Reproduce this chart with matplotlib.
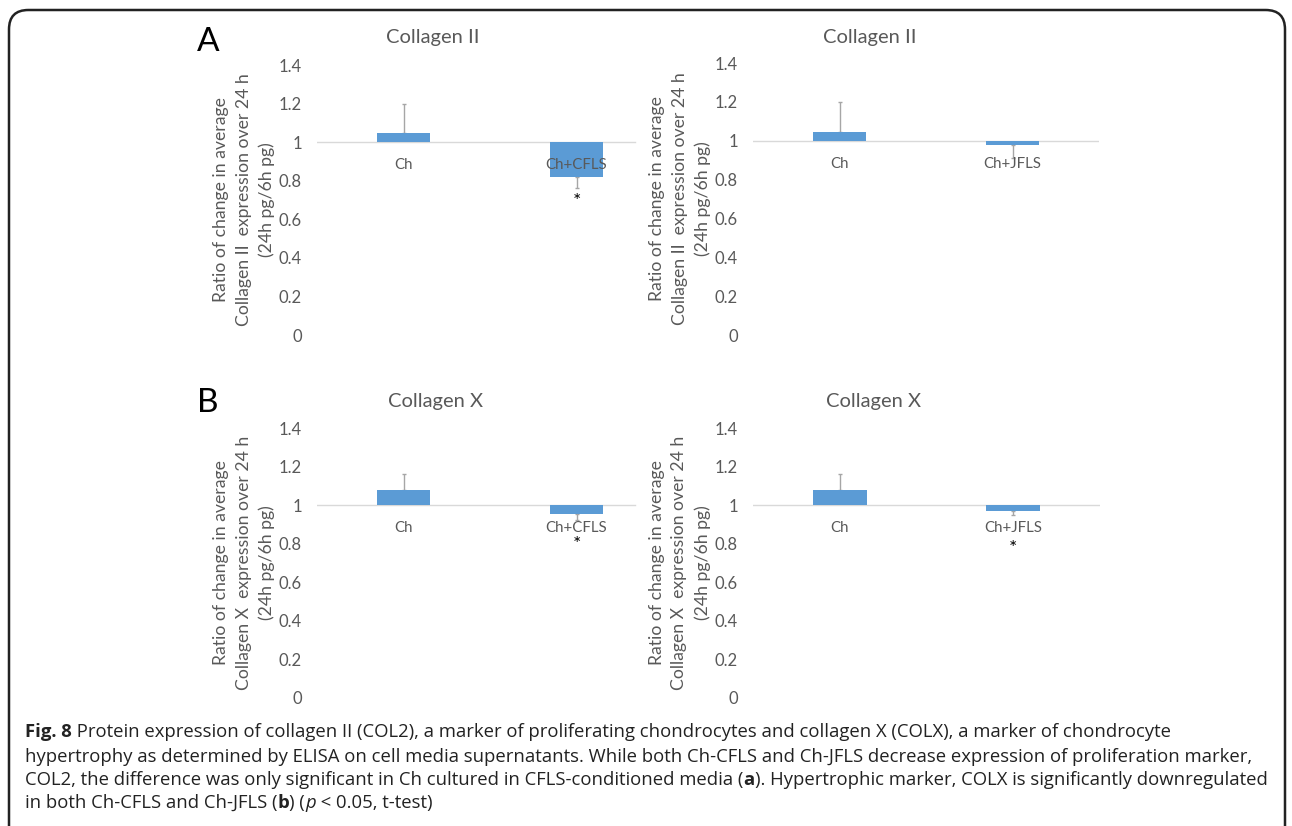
import matplotlib
matplotlib.use("Agg")
import matplotlib.pyplot as plt
from matplotlib.patches import FancyBboxPatch

W, H = 1292, 826
DPI = 100

# ---------------- data ----------------
categories_A_left = ["Ch", "Ch+CFLS"]
categories_A_right = ["Ch", "Ch+JFLS"]
categories_B_left = ["Ch", "Ch+CFLS"]
categories_B_right = ["Ch", "Ch+JFLS"]

means_A_left = [1.045, 0.82]
err_A_left = [0.155, 0.06]
means_A_right = [1.045, 0.977]
err_A_right = [0.155, 0.066]
means_B_left = [1.078, 0.953]
err_B_left = [0.082, 0.03]
means_B_right = [1.078, 0.968]
err_B_right = [0.082, 0.018]

# significance marks (category index, y in data units)
sig_A_left = [(1, 0.72)]
sig_A_right = []
sig_B_left = [(1, 0.825)]
sig_B_right = [(1, 0.805)]

ytick_values = [0, 0.2, 0.4, 0.6, 0.8, 1, 1.2, 1.4]
ytick_labels = ["0", "0.2", "0.4", "0.6", "0.8", "1", "1.2", "1.4"]

titles = ["Collagen II", "Collagen II", "Collagen X", "Collagen X"]
ylabels = [
    "Ratio of change in average\nCollagen II  expression over 24 h\n(24h pg/6h pg)",
    "Ratio of change in average\nCollagen II  expression over 24 h\n(24h pg/6h pg)",
    "Ratio of change in average\nCollagen X  expression over 24 h\n(24h pg/6h pg)",
    "Ratio of change in average\nCollagen X  expression over 24 h\n(24h pg/6h pg)",
]

caption_lines = [
    [("Fig. 8", "bold", "normal"), (" Protein expression of collagen II (COL2), a marker of proliferating chondrocytes and collagen X (COLX), a marker of chondrocyte", "normal", "normal")],
    [("hypertrophy as determined by ELISA on cell media supernatants. While both Ch-CFLS and Ch-JFLS decrease expression of proliferation marker,", "normal", "normal")],
    [("COL2, the difference was only significant in Ch cultured in CFLS-conditioned media (", "normal", "normal"), ("a", "bold", "normal"), ("). Hypertrophic marker, COLX is significantly downregulated", "normal", "normal")],
    [("in both Ch-CFLS and Ch-JFLS (", "normal", "normal"), ("b", "bold", "normal"), (") (", "normal", "normal"), ("p", "normal", "italic"), (" < 0.05, t-test)", "normal", "normal")],
]

# ---------------- style ----------------
CHART_FONT = ["Lato", "DejaVu Sans"]
CAP_FONT = ["Open Sans", "DejaVu Sans"]
GREY = "#595959"
BAR = "#5B9BD5"
plt.rcParams["font.family"] = CHART_FONT

fig = plt.figure(figsize=(W / DPI, H / DPI), dpi=DPI)


def rect(x0, x1, ytop, ybot):
    return [x0 / W, 1 - ybot / H, (x1 - x0) / W, (ybot - ytop) / H]


panels = [
    dict(pos=rect(317, 663, 65, 335), cats=categories_A_left, m=means_A_left, e=err_A_left, sig=sig_A_left, line_end=0.919),
    dict(pos=rect(753, 1099, 63, 335), cats=categories_A_right, m=means_A_right, e=err_A_right, sig=sig_A_right, line_end=1.0),
    dict(pos=rect(317, 663, 428, 698), cats=categories_B_left, m=means_B_left, e=err_B_left, sig=sig_B_left, line_end=0.919),
    dict(pos=rect(753, 1100, 428, 698), cats=categories_B_right, m=means_B_right, e=err_B_right, sig=sig_B_right, line_end=1.0),
]

for i, p in enumerate(panels):
    ax = fig.add_axes(p["pos"])
    x = list(range(len(p["cats"])))
    heights = [m - 1 for m in p["m"]]
    ax.bar(x, heights, bottom=1, width=0.31, color=BAR, zorder=2)
    lower = [0 if m >= 1 else e for m, e in zip(p["m"], p["e"])]
    upper = [e if m >= 1 else 0 for m, e in zip(p["m"], p["e"])]
    ax.errorbar(x, p["m"], yerr=[lower, upper], fmt="none", ecolor="#A6A6A6",
                elinewidth=1, capsize=1.5, capthick=1, zorder=1)
    ax.axhline(1, xmin=0, xmax=p["line_end"], color="#D9D9D9", lw=1, zorder=0)
    for xi, c in zip(x, p["cats"]):
        ax.annotate(c, (xi, 1), xytext=(0, -16.5), textcoords="offset points",
                    ha="center", va="center", fontsize=10.8, color=GREY, zorder=3)
    for xi, ys in p["sig"]:
        ax.annotate("*", (xi, ys), xytext=(0, -8), textcoords="offset points",
                    ha="center", va="baseline", fontsize=14, color="black")
    ax.set_xlim(-0.5, 1.5)
    ax.set_ylim(0, 1.4)
    ax.set_yticks(ytick_values)
    ax.set_yticklabels(ytick_labels)
    ax.tick_params(axis="y", length=0, pad=11, labelsize=12, labelcolor=GREY)
    ax.set_xticks([])
    for s in ax.spines.values():
        s.set_visible(False)
    ax.patch.set_alpha(0)
    ax.set_ylabel(ylabels[i], fontsize=12.7, color=GREY, linespacing=1.5,
                  ha="center", va="center", multialignment="center")
    ax.yaxis.set_label_coords(-0.211, 0.5)

# titles
title_pos = [(433, 38), (870, 38), (435, 401), (873, 401)]
for t, (tx, ty) in zip(titles, title_pos):
    fig.text(tx / W, 1 - ty / H, t, ha="center", va="center", fontsize=14.5, color=GREY)

# panel letters
fig.text(197 / W, 1 - 42 / H, "A", ha="left", va="center", fontsize=24, color="black")
fig.text(197 / W, 1 - 403 / H, "B", ha="left", va="center", fontsize=24, color="black")

# border
box = FancyBboxPatch((9 / W, -0.05), (1285 - 9) / W, (1 - 10 / H) + 0.05,
                     boxstyle="round,pad=0,rounding_size=0.015",
                     transform=fig.transFigure, fill=False, ec="#222222", lw=1.8,
                     mutation_aspect=W / H)
fig.patches.append(box)

# caption
renderer = fig.canvas.get_renderer()
line_y = [732, 757, 780, 803]
for segs, ly in zip(caption_lines, line_y):
    cx = 25
    for txt, weight, style in segs:
        t = fig.text(cx / W, 1 - ly / H, txt, ha="left", va="center", fontsize=13.3,
                     color="#222222", family=CAP_FONT, weight=weight, style=style)
        bb = t.get_window_extent(renderer=renderer)
        cx += bb.width

fig.savefig("out.png", dpi=DPI)
